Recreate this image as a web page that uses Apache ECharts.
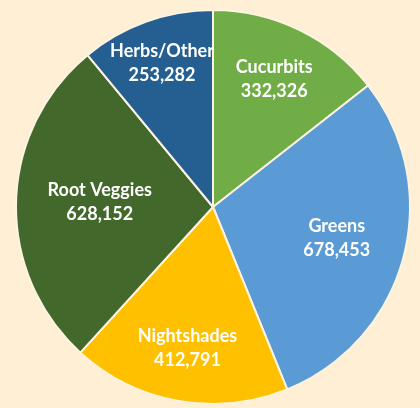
<!DOCTYPE html>
<html>
<head>
<meta charset="utf-8">
<script src="https://cdn.jsdelivr.net/npm/echarts@6/dist/echarts.min.js"></script>
<style>
    html, body { margin: 0; padding: 0; background: #feefd5; }
    #chart { width: 420px; height: 408px; }
</style>
</head>
<body>
<div id="chart"></div>
<script>
// crop groups, clockwise from 12 o'clock
const categories = ['Cucurbits', 'Greens', 'Nightshades', 'Root Veggies', 'Herbs/Other'];
const values = [332326, 678453, 412791, 628152, 253282];
const colors = ['#70ad47', '#5b9bd5', '#ffc000', '#43682b', '#255e91'];
// how far out each label sits, as a share of the radius (best-fit look)
const labelReach = [0.71, 0.65, 0.74, 0.575, 0.765];

const chart = echarts.init(document.getElementById('chart'));

const center = [213, 207];
const radius = 197;
const total = values.reduce((a, b) => a + b, 0);

// mid angle of each slice, degrees clockwise from top
const midAngles = [];
let acc = 0;
values.forEach((v) => {
    midAngles.push((acc + v / 2) / total * 360);
    acc += v;
});

chart.setOption({
    backgroundColor: '#feefd5',
    animation: false,
    series: [
        {
            type: 'pie',
            center,
            radius: [0, radius],
            startAngle: 90,
            clockwise: true,
            silent: true,
            data: categories.map((name, i) => ({
                name,
                value: values[i],
                itemStyle: { color: colors[i] },
            })),
            itemStyle: {
                borderColor: '#fdf3e1',
                borderWidth: 2,
            },
            label: {
                show: true,
                position: 'inside',
                color: '#ffffff',
                fontFamily: 'Lato',
                fontWeight: 'bold',
                fontSize: 18,
                lineHeight: 24,
                formatter: (p) => p.name + '\n' + p.value.toLocaleString('en-US'),
            },
            labelLine: { show: false },
            labelLayout(params) {
                const i = params.dataIndex;
                const a = midAngles[i] * Math.PI / 180;
                const r = radius * labelReach[i];
                return {
                    x: center[0] + r * Math.sin(a),
                    y: center[1] - r * Math.cos(a) - 2,
                    align: 'center',
                    verticalAlign: 'middle',
                    hideOverlap: false,
                };
            },
        },
    ],
});
</script>
</body>
</html>
